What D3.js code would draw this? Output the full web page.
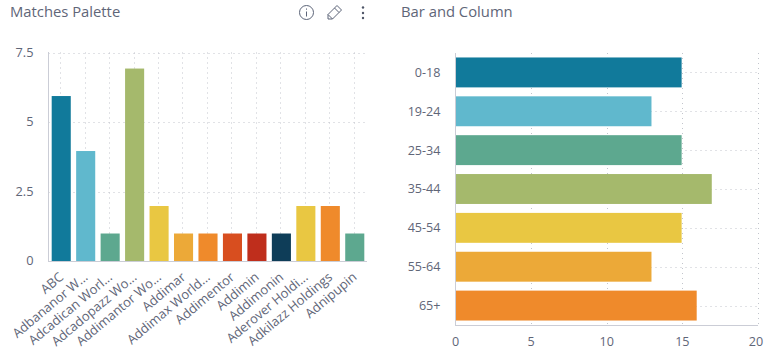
<!DOCTYPE html>
<html><head><meta charset="utf-8">
<style>
html,body{margin:0;padding:0;background:#fff;overflow:hidden}
svg{display:block}
text{font-family:"Open Sans",sans-serif;fill:#5f6678}
</style>
<script src="https://cdn.jsdelivr.net/npm/d3@7"></script>
</head><body><svg id="c" width="774" height="361"></svg>
<script>
const leftTitle="Matches Palette", rightTitle="Bar and Column";
const leftCategories=["ABC","Adbananor W...","Adcadican Worl...","Adcadopazz Wo...","Addimantor Wo...","Addimar","Addimax World...","Addimentor","Addimin","Addimonin","Aderover Holdi...","Adkilazz Holdings","Adnipupin"];
const leftValues=[6,4,1,7,2,1,1,1,1,1,2,2,1];
const leftColors=["#117a9b","#60b8cd","#5da88f","#a5b96c","#e9c742","#eca938","#ef8a2b","#d84e1f","#bf2e1c","#0e3d58","#e9c742","#ef8a2b","#5da88f"];
const leftTicks=[0,2.5,5,7.5];
const rightCategories=["0-18","19-24","25-34","35-44","45-54","55-64","65+"];
const rightValues=[15,13,15,17,15,13,16];
const rightColors=["#117a9b","#60b8cd","#5da88f","#a5b96c","#e9c742","#eca938","#ef8a2b"];
const rightTicks=[0,5,10,15,20];

const svg=d3.select("#c");
const grid="#c2c5cc", axisCol="#cbcdd6";
function dotted(g){g.attr("stroke",grid).attr("stroke-width",1).attr("stroke-dasharray","1 4").attr("fill","none");}

svg.append("text").attr("x",10).attr("y",17).attr("font-size",14.8).text(leftTitle);
svg.append("text").attr("x",401).attr("y",17).attr("font-size",14.8).text(rightTitle);

// Left chart: the reference draws its bars on a slightly tighter scale than its gridlines
const lx=d3.scaleBand().domain(leftCategories).range([49,367]).paddingInner(0.22).paddingOuter(0.11);
const ly=d3.scaleLinear().domain([0,7.5]).range([261,52.5]);
const lyBar=d3.scaleLinear().domain([0,7.5]).range([261,54.8]);
const lg=svg.append("g");
lg.append("g").call(dotted).selectAll("line").data(leftTicks.filter(t=>t>0)).join("line")
  .attr("x1",48.5).attr("x2",366.5).attr("y1",d=>Math.round(ly(d))+.5).attr("y2",d=>Math.round(ly(d))+.5);
lg.append("g").call(dotted).selectAll("line").data(leftCategories).join("line")
  .attr("x1",d=>Math.floor(lx(d)+lx.bandwidth()/2-.6)+.5).attr("x2",d=>Math.floor(lx(d)+lx.bandwidth()/2-.6)+.5).attr("y1",52.5).attr("y2",261);
lg.selectAll("rect").data(leftCategories).join("rect")
  .attr("x",d=>lx(d)).attr("width",lx.bandwidth())
  .attr("y",(d,i)=>lyBar(leftValues[i])).attr("height",(d,i)=>lyBar(0)-lyBar(leftValues[i]))
  .attr("fill",(d,i)=>leftColors[i]);
lg.append("line").attr("x1",48.5).attr("x2",48.5).attr("y1",52).attr("y2",261.5).attr("stroke",axisCol);
lg.append("line").attr("x1",48).attr("x2",367).attr("y1",261.5).attr("y2",261.5).attr("stroke",axisCol);
lg.selectAll("text.yt").data(leftTicks).join("text").attr("class","yt")
  .attr("x",33.5).attr("y",d=>ly(d)).attr("dy","0.35em").attr("text-anchor","end").attr("font-size",12.8).text(d=>d);
lg.selectAll("text.xt").data(leftCategories).join("text").attr("class","xt")
  .attr("text-anchor","end").attr("font-size",13)
  .attr("transform",d=>`translate(${lx(d)+lx.bandwidth()/2},${275}) rotate(-40)`)
  .attr("dy","0.35em").text(d=>d);

// Right chart
const rx=d3.scaleLinear().domain([0,20]).range([455.5,758]);
const rxBar=d3.scaleLinear().domain([0,20]).range([455.5,757]);
const ry=d3.scaleBand().domain(rightCategories).range([53,325]).paddingInner(0.23).paddingOuter(0.115);
const rg=svg.append("g");
rg.append("g").call(dotted).selectAll("line").data(rightTicks.filter(t=>t>0)).join("line")
  .attr("x1",d=>Math.round(rx(d))+.5).attr("x2",d=>Math.round(rx(d))+.5).attr("y1",53).attr("y2",325);
rg.append("g").call(dotted).selectAll("line").data(rightCategories).join("line")
  .attr("x1",455.5).attr("x2",758).attr("y1",d=>Math.round(ry(d)+ry.bandwidth()/2)+.5).attr("y2",d=>Math.round(ry(d)+ry.bandwidth()/2)+.5);
rg.selectAll("rect").data(rightCategories).join("rect")
  .attr("x",rxBar(0)).attr("y",d=>ry(d)).attr("height",ry.bandwidth())
  .attr("width",(d,i)=>rxBar(rightValues[i])-rxBar(0)).attr("fill",(d,i)=>rightColors[i]);
rg.append("line").attr("x1",455.5).attr("x2",455.5).attr("y1",53).attr("y2",325.5).attr("stroke",axisCol);
rg.append("line").attr("x1",455).attr("x2",758).attr("y1",325.5).attr("y2",325.5).attr("stroke",axisCol);
rg.selectAll("text.yt").data(rightCategories).join("text").attr("class","yt")
  .attr("x",440.5).attr("y",d=>ry(d)+ry.bandwidth()/2).attr("dy","0.35em").attr("text-anchor","end").attr("font-size",12.6).text(d=>d);
rg.selectAll("text.xt").data(rightTicks).join("text").attr("class","xt")
  .attr("x",d=>rx(d)-(d===20?2:0)).attr("y",346).attr("text-anchor","middle").attr("font-size",12.6).text(d=>d);

const ic=svg.append("g").attr("fill","none").attr("stroke","#5c6478").attr("stroke-width",1);
ic.append("circle").attr("cx",306.5).attr("cy",12.5).attr("r",7);
ic.append("path").attr("d","M306.5 11.5V16.5M306.5 8.5V9.7");
ic.append("path").attr("d","M328 19L328 14.5L337 5.5L341.5 10L332.5 19ZM334.5 8L339 12.5M328 14.5L332.5 19");
svg.append("g").attr("fill","#4f5668").selectAll("circle").data([7.5,13,18]).join("circle")
  .attr("cx",363).attr("cy",d=>d).attr("r",1.2);
</script></body></html>
